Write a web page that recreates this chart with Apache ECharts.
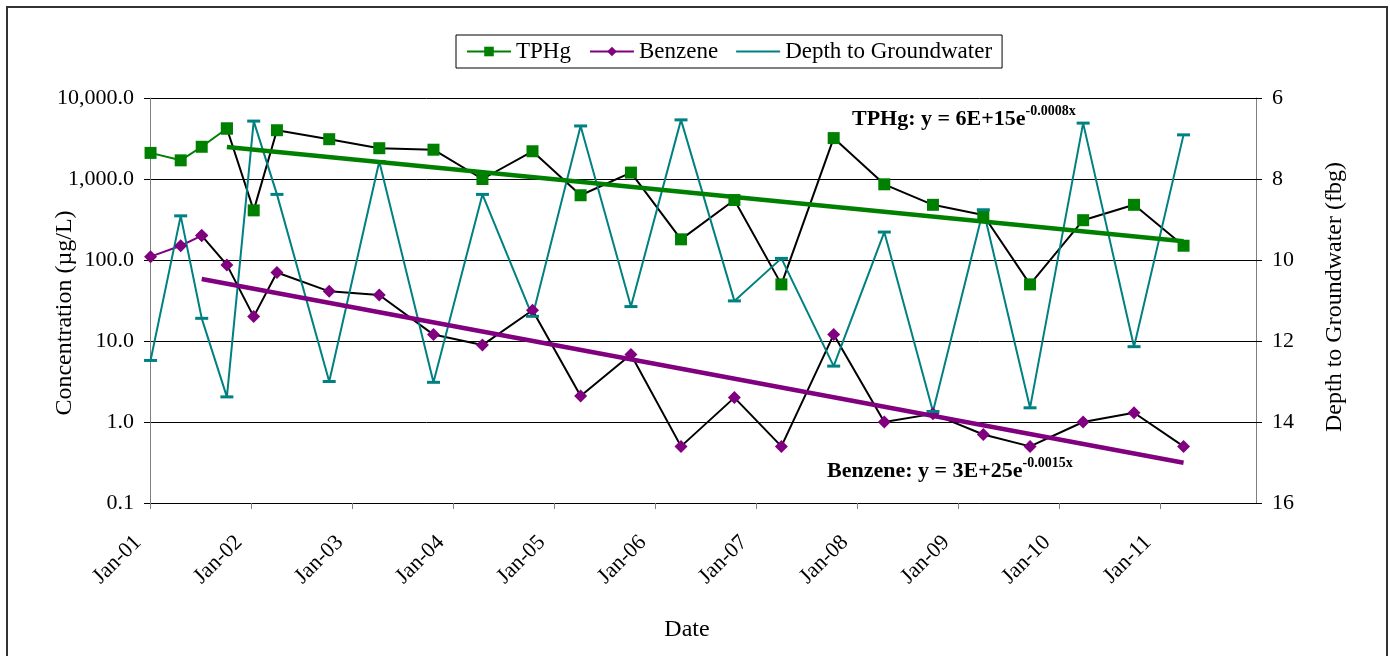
<!DOCTYPE html>
<html><head><meta charset="utf-8">
<script src="https://cdn.jsdelivr.net/npm/echarts@6/dist/echarts.min.js"></script>
<style>html,body{margin:0;padding:0;background:#fff}#c{width:1390px;height:656px}</style>
</head><body><div id="c"></div>
<script>
// ---------------- data ----------------
const sampleDates = ['2001-01-03','2001-04-22','2001-07-07','2001-10-06','2002-01-11','2002-04-05','2002-10-11',
  '2003-04-10','2003-10-23','2004-04-17','2004-10-15','2005-04-07','2005-10-06','2006-04-05','2006-10-15',
  '2007-04-03','2007-10-09','2008-04-09','2008-10-02','2009-04-02','2009-09-18','2010-03-29','2010-09-29','2011-03-27'];
const tphg    = [2100,1700,2500,4200,410,4000,3100,2400,2300,1000,2200,630,1200,180,550,50,3200,860,480,360,50,310,480,150];
const benzene = [110,150,200,87,20,70,41,37,12,8.9,24,2.1,6.8,0.5,2.0,0.5,12,1.0,1.26,0.7,0.5,1.0,1.3,0.5];
const depth   = [12.48,8.91,11.44,13.38,6.57,8.38,13.0,7.57,13.02,8.38,11.39,6.69,11.15,6.54,11.01,9.96,12.62,9.31,13.74,8.76,13.65,6.62,12.14,6.91];
const tphgTrendDates = ['2001-10-06','2011-03-27'];
const tphgTrend      = [2485,170];
const benzTrendDates = ['2001-07-07','2011-03-27'];
const benzTrend      = [58.2,0.314];
const yearTicks  = ['2001-01-01','2002-01-01','2003-01-01','2004-01-01','2005-01-01','2006-01-01','2007-01-01','2008-01-01','2009-01-01','2010-01-01','2011-01-01'];
const yearLabels = ['Jan-01','Jan-02','Jan-03','Jan-04','Jan-05','Jan-06','Jan-07','Jan-08','Jan-09','Jan-10','Jan-11'];
const axisStart = '2001-01-01', axisEnd = '2011-12-14';
const seriesNames = ['TPHg','Benzene','Depth to Groundwater'];
const tphgEq = ['TPHg: y = 6E+15e','-0.0008x'];
const benzEq = ['Benzene: y = 3E+25e','-0.0015x'];
const titles = {x:'Date', yLeft:'Concentration (\u00b5g/L)', yRight:'Depth to Groundwater (fbg)'};

// ---------------- helpers ----------------
function ts(s){const p=s.split('-').map(Number);return Date.UTC(p[0],p[1]-1,p[2]);}
function pairs(dates, vals, from, to){const out=[];for(let i=from;i<=to;i++)out.push([ts(dates[i]),vals[i]]);return out;}
const n = sampleDates.length;
const FONT = '"Liberation Serif", "Times New Roman", serif';
const tickTs = yearTicks.map(ts);
const GREEN='#008000', PURPLE='#800080', TEAL='#008080';
const DASH_ICON = 'path://M0,0H44V2H0Z';

const chart = echarts.init(document.getElementById('c'), null, {renderer:'canvas'});
const option = {
  animation:false,
  backgroundColor:'#fff',
  textStyle:{fontFamily:FONT,color:'#000'},
  grid:{left:150,right:134,top:98,bottom:153,containLabel:false},
  legend:{
    data:[{name:seriesNames[0]},{name:seriesNames[1]},{name:seriesNames[2],icon:DASH_ICON}],
    left:456, top:35,
    itemWidth:44, itemHeight:12, itemGap:18,
    padding:[5,10,5,10],
    borderColor:'#000', borderWidth:1,
    textStyle:{fontFamily:FONT,fontSize:23,color:'#000'}
  },
  xAxis:{
    type:'value', min:ts(axisStart), max:ts(axisEnd), scale:true,
    axisLine:{show:true,onZero:false,lineStyle:{color:'#000',width:1}},
    axisTick:{show:true,length:6,lineStyle:{color:'#808080'},customValues:tickTs},
    axisLabel:{
      customValues:tickTs, rotate:45, margin:24, padding:[0,17,0,0],
      fontFamily:FONT,fontSize:22,color:'#000',
      formatter:function(v){const i=tickTs.indexOf(v);return i>=0?yearLabels[i]:'';}
    },
    splitLine:{show:false}
  },
  yAxis:[{
    type:'log', logBase:10, min:0.1, max:10000,
    axisLine:{show:true,lineStyle:{color:'#808080',width:1}},
    axisTick:{show:true,length:6,lineStyle:{color:'#000'}},
    axisLabel:{margin:16,fontFamily:FONT,fontSize:22,color:'#000',
      formatter:function(v){const r=Math.round(v*10)/10;return r.toLocaleString('en-US',{minimumFractionDigits:1,maximumFractionDigits:1});}},
    splitLine:{show:true,lineStyle:{color:'#000',width:1}}
  },{
    type:'value', min:6, max:16, interval:2, inverse:true, position:'right',
    axisLine:{show:true,lineStyle:{color:'#808080',width:1}},
    axisTick:{show:true,length:6,lineStyle:{color:'#000'}},
    axisLabel:{margin:16,fontFamily:FONT,fontSize:22,color:'#000'},
    splitLine:{show:false}
  }],
  series:[
    {name:'TPHg',type:'line',data:pairs(sampleDates,tphg,0,3),symbol:'rect',symbolSize:12,
      itemStyle:{color:GREEN},lineStyle:{color:GREEN,width:2},z:3},
    {name:'TPHg ',type:'line',data:pairs(sampleDates,tphg,3,n-1),symbol:'rect',symbolSize:12,
      itemStyle:{color:GREEN},lineStyle:{color:'#000',width:2},z:3},
    {name:'Benzene',type:'line',data:pairs(sampleDates,benzene,0,2),symbol:'diamond',symbolSize:[13,13],
      itemStyle:{color:PURPLE},lineStyle:{color:PURPLE,width:2},z:3},
    {name:'Benzene ',type:'line',data:pairs(sampleDates,benzene,2,n-1),symbol:'diamond',symbolSize:[13,13],
      itemStyle:{color:PURPLE},lineStyle:{color:'#000',width:2},z:3},
    {name:'Depth to Groundwater',type:'line',yAxisIndex:1,data:pairs(sampleDates,depth,0,n-1),
      symbol:'rect',symbolSize:[13,3],symbolKeepAspect:true,itemStyle:{color:TEAL},lineStyle:{color:TEAL,width:2},z:3},
    {name:'TPHg trend',type:'line',data:pairs(tphgTrendDates,tphgTrend,0,1),symbol:'none',
      lineStyle:{color:GREEN,width:4.5},z:4},
    {name:'Benzene trend',type:'line',data:pairs(benzTrendDates,benzTrend,0,1),symbol:'none',
      lineStyle:{color:PURPLE,width:4.5},z:4}
  ],
  graphic:[
    {type:'rect',x:7,y:7,shape:{x:0,y:0,width:1380,height:670},style:{fill:null,stroke:'#333',lineWidth:2},silent:true,z:-10},
    {type:'text',x:65,y:313,rotation:Math.PI/2,style:{text:titles.yLeft,font:'24px '+FONT,fill:'#000',align:'center',verticalAlign:'middle'}},
    {type:'text',x:1335,y:297,rotation:Math.PI/2,style:{text:titles.yRight,font:'24px '+FONT,fill:'#000',align:'center',verticalAlign:'middle'}},
    {type:'text',x:687,y:630,style:{text:titles.x,font:'24px '+FONT,fill:'#000',align:'center',verticalAlign:'middle'}},
    {type:'text',x:852,y:119,z:10,style:{
      text:'{m|'+tphgEq[0]+'}{s|'+tphgEq[1]+'}',align:'left',verticalAlign:'middle',
      rich:{m:{fontFamily:FONT,fontSize:22,fontWeight:'bold',lineHeight:30,verticalAlign:'middle',fill:'#000'},
            s:{fontFamily:FONT,fontSize:14,fontWeight:'bold',lineHeight:14,verticalAlign:'top',fill:'#000'}}}},
    {type:'text',x:827,y:471,z:10,style:{
      text:'{m|'+benzEq[0]+'}{s|'+benzEq[1]+'}',align:'left',verticalAlign:'middle',
      rich:{m:{fontFamily:FONT,fontSize:22,fontWeight:'bold',lineHeight:30,verticalAlign:'middle',fill:'#000'},
            s:{fontFamily:FONT,fontSize:14,fontWeight:'bold',lineHeight:14,verticalAlign:'top',fill:'#000'}}}}
  ]
};
chart.setOption(option);
</script></body></html>
